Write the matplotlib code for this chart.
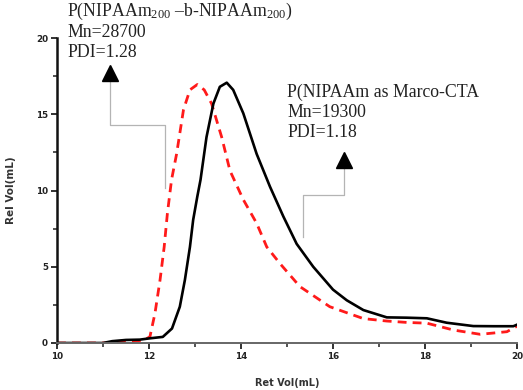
import matplotlib
matplotlib.use("Agg")
import matplotlib.pyplot as plt
from matplotlib.ticker import MultipleLocator

# Data
black_x = [10.0, 11.0, 11.2, 11.5, 11.8, 12.0, 12.3, 12.5, 12.67, 12.78, 12.89, 12.96, 13.05, 13.12,
           13.25, 13.4, 13.54, 13.69, 13.83, 14.05, 14.34, 14.63, 14.92, 15.21, 15.57, 16.0, 16.3,
           16.66, 17.17, 17.6, 18.04, 18.47, 19.05, 19.5, 19.92, 20.0]
black_y = [0.0, 0.0, 0.12, 0.2, 0.22, 0.3, 0.4, 0.95, 2.38, 4.13, 6.3, 8.07, 9.6, 10.7,
           13.5, 15.7, 16.8, 17.07, 16.6, 15.06, 12.4, 10.25, 8.3, 6.5, 5.0, 3.5, 2.8,
           2.16, 1.68, 1.66, 1.62, 1.33, 1.11, 1.1, 1.1, 1.2]

red_x = [10.0, 11.0, 11.5, 11.9, 12.02, 12.13, 12.24, 12.33, 12.4, 12.49, 12.6, 12.75, 12.89,
         13.05, 13.2, 13.36, 13.58, 13.76, 14.05, 14.34, 14.56, 14.85, 15.28, 15.93, 16.66,
         17.17, 17.6, 18.04, 18.62, 19.2, 19.78, 20.0]
red_y = [0.0, 0.0, 0.05, 0.2, 0.41, 1.95, 4.13, 6.3, 8.5, 10.7, 12.4, 15.3, 16.6,
         16.95, 16.6, 15.7, 13.5, 11.3, 9.4, 7.85, 6.3, 5.2, 3.7, 2.38, 1.6,
         1.44, 1.35, 1.3, 0.85, 0.57, 0.74, 1.1]

x_ticks = [10, 12, 14, 16, 18, 20]
y_ticks = [0, 5, 10, 15, 20]

left_label = [r"P(NIPAAm$_{200}$ –b-NIPAAm$_{200}$)", "Mn=28700", "PDI=1.28"]
right_label = ["P(NIPAAm as Marco-CTA", "Mn=19300", "PDI=1.18"]

# connector paths (data coords)
left_conn_x = [11.152, 11.152, 12.348, 12.348]
left_conn_y = [17.18, 14.30, 14.30, 10.16]
right_conn_x = [16.24, 16.24, 15.348, 15.348]
right_conn_y = [11.48, 9.70, 9.70, 6.95]
left_arrow = (11.152, 17.7)
right_arrow = (16.24, 12.0)

plt.rcParams['mathtext.fontset'] = 'custom'
plt.rcParams['mathtext.rm'] = 'Liberation Serif'
plt.rcParams['mathtext.it'] = 'Liberation Serif:italic'

W, H = 523, 390
fig = plt.figure(figsize=(W / 100, H / 100), dpi=100)
ax = fig.add_axes([57 / W, 1 - 343 / H, (517 - 57) / W, (343 - 38) / H])

ax.plot(left_conn_x, left_conn_y, color='#b4b4b4', lw=0.9, clip_on=False, zorder=1)
ax.plot(right_conn_x, right_conn_y, color='#b4b4b4', lw=0.9, clip_on=False, zorder=1)
ax.plot([left_arrow[0]], [left_arrow[1]], marker='^', color='black', markersize=12,
        clip_on=False, zorder=3)
ax.plot([right_arrow[0]], [right_arrow[1]], marker='^', color='black', markersize=12,
        clip_on=False, zorder=3)

ax.plot(red_x, red_y, color='#ff1a1a', lw=2.0, linestyle=(0, (3.2, 2.2)), zorder=2)
ax.plot(black_x, black_y, color='black', lw=1.9, zorder=2)

ax.set_xlim(10, 20)
ax.set_ylim(0, 20)
ax.set_xticks(x_ticks)
ax.set_yticks(y_ticks)
ax.xaxis.set_minor_locator(MultipleLocator(1))
ax.yaxis.set_minor_locator(MultipleLocator(2.5))

for s in ['top', 'right']:
    ax.spines[s].set_visible(False)
ax.spines['left'].set_linewidth(1.8)
ax.spines['left'].set_color('#111111')
ax.spines['bottom'].set_color('#666666')
ax.spines['bottom'].set_linewidth(1.4)

ax.tick_params(axis='both', which='major', direction='out', length=4.5, width=1.3,
               labelsize=6.3, colors='#222222', pad=2)
ax.tick_params(axis='both', which='minor', direction='out', length=3, width=1.1, colors='#222222')
for lab in ax.get_xticklabels() + ax.get_yticklabels():
    lab.set_fontweight('bold')

ax.set_xlabel("Ret Vol(mL)", fontsize=7, fontweight='bold', color='#333333', labelpad=12)
ax.set_ylabel("Rel Vol(mL)", fontsize=7.5, fontweight='bold', color='#333333', labelpad=14)

serif = 'Liberation Serif'
base_l = [16, 36.7, 56.7]
for t, b in zip(left_label, base_l):
    fig.text(67 / W, 1 - b / H, t, family=serif, fontsize=12.8, va='baseline', ha='left',
             color='#222222')
base_r = [96.7, 117.3, 137.3]
for t, b in zip(right_label, base_r):
    fig.text(287 / W, 1 - b / H, t, family=serif, fontsize=12.8, va='baseline', ha='left',
             color='#222222')

fig.savefig("out.png", dpi=100)
